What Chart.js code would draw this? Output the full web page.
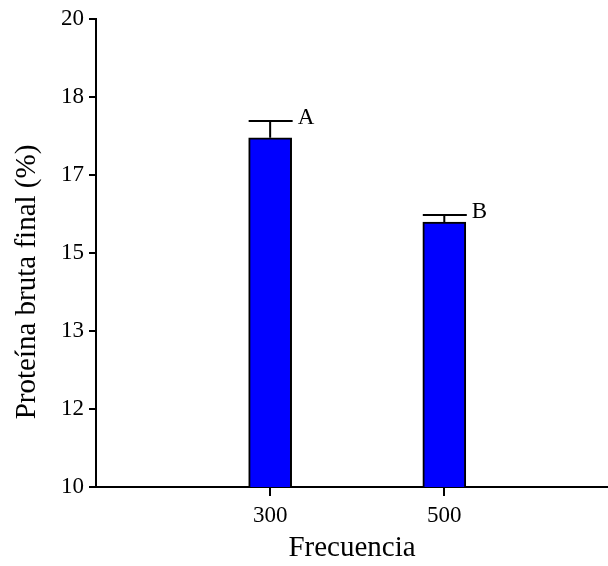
<!DOCTYPE html>
<html>
<head>
<meta charset="utf-8">
<title>Proteína bruta final</title>
<script src="https://cdn.jsdelivr.net/npm/chart.js@4.4.1/dist/chart.umd.min.js"></script>
<style>
  html, body { margin: 0; padding: 0; background: #fff; }
  #wrap { width: 608px; height: 566px; }
</style>
</head>
<body>
<div id="wrap"><canvas id="chart" width="608" height="566"></canvas></div>
<script>
// data
const frecuencias = ["300", "500"];
const proteina = [17.46, 15.66];
const errores = [0.36, 0.15];
const letras = ["A", "B"];
const yTicks = [10, 11.667, 13.333, 15, 16.667, 18.333, 20];
const yTickLabels = ["10", "12", "13", "15", "17", "18", "20"];

const serif = "'Liberation Serif', 'Times New Roman', serif";

// error bars + significance letters on top of each bar
const errorBars = {
    id: "errorBars",
    afterDatasetsDraw(chart) {
        const ctx = chart.ctx;
        const yScale = chart.scales.y;
        const meta = chart.getDatasetMeta(0);
        ctx.save();
        ctx.strokeStyle = "#000";
        ctx.lineWidth = 2;
        meta.data.forEach((bar, i) => {
            const half = bar.width / 2;
            const top = yScale.getPixelForValue(proteina[i]);
            const capY = yScale.getPixelForValue(proteina[i] + errores[i]);
            ctx.beginPath();
            ctx.moveTo(bar.x, top);
            ctx.lineTo(bar.x, capY);
            ctx.moveTo(bar.x - half, capY);
            ctx.lineTo(bar.x + half + 1, capY);
            ctx.stroke();

            ctx.fillStyle = "#000";
            ctx.font = "23px " + serif;
            ctx.textAlign = "left";
            ctx.textBaseline = "middle";
            ctx.fillText(letras[i], bar.x + half + 6, capY - 3);
        });
        ctx.restore();
    }
};

// rotated y title
const yTitle = {
    id: "yTitle",
    afterDraw(chart) {
        const ctx = chart.ctx;
        ctx.save();
        ctx.translate(27, 282);
        ctx.rotate(-Math.PI / 2);
        ctx.fillStyle = "#000";
        ctx.font = "29px " + serif;
        ctx.textAlign = "center";
        ctx.textBaseline = "middle";
        ctx.fillText("Proteína bruta final (%)", 0, 0);
        ctx.restore();
    }
};

new Chart(document.getElementById("chart"), {
    type: "bar",
    data: {
        datasets: [{
            data: proteina.map((v, i) => ({ x: i + 1, y: v })),
            backgroundColor: "#0000ff",
            borderColor: "#000",
            borderWidth: 2,
            borderSkipped: false,
            barThickness: 43
        }]
    },
    options: {
        responsive: false,
        animation: false,
        layout: { padding: { top: 19, right: 0, left: 0, bottom: 0 } },
        plugins: {
            legend: { display: false },
            tooltip: { enabled: false }
        },
        scales: {
            x: {
                type: "linear",
                min: 0,
                max: 2.94,
                offset: false,
                afterBuildTicks: s => { s.ticks = frecuencias.map((f, i) => ({ value: i + 1 })); },
                afterFit: s => { s.height = 79; },
                ticks: {
                    color: "#000",
                    font: { family: serif, size: 23 },
                    padding: 6,
                    maxRotation: 0,
                    callback: v => frecuencias[v - 1]
                },
                grid: {
                    offset: false,
                    drawOnChartArea: false,
                    color: "#000",
                    lineWidth: 2,
                    tickLength: 9
                },
                border: { color: "#000", width: 2 },
                title: {
                    display: true,
                    text: "Frecuencia",
                    color: "#000",
                    font: { family: serif, size: 29 },
                    padding: { top: 0, bottom: 0 }
                }
            },
            y: {
                min: 10,
                max: 20,
                afterBuildTicks: s => { s.ticks = yTicks.map(v => ({ value: v })); },
                afterFit: s => { s.width = 96; },
                ticks: {
                    color: "#000",
                    font: { family: serif, size: 23 },
                    padding: 5,
                    callback: (v, i) => yTickLabels[i]
                },
                grid: {
                    drawOnChartArea: false,
                    color: "#000",
                    lineWidth: 2,
                    tickLength: 7
                },
                border: { color: "#000", width: 2 }
            }
        }
    },
    plugins: [errorBars, yTitle]
});
</script>
</body>
</html>
